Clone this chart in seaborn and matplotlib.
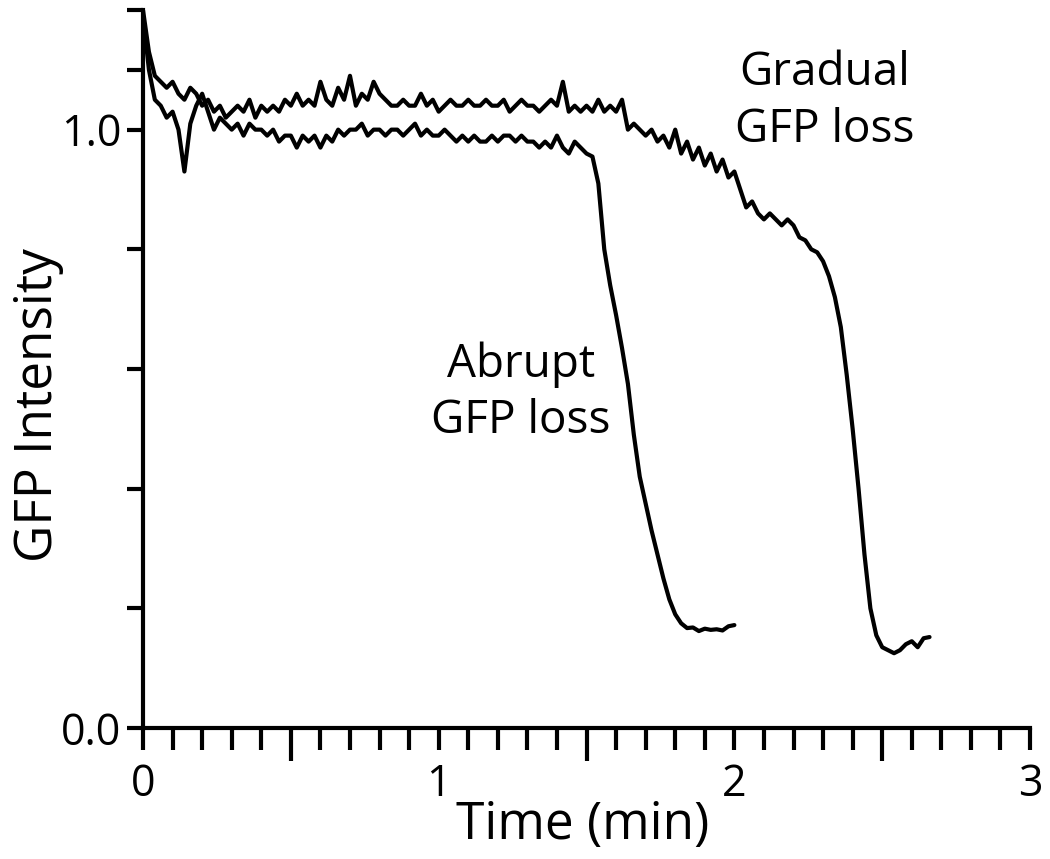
import numpy as np
import pandas as pd
import seaborn as sns
import matplotlib.pyplot as plt
from matplotlib.ticker import MultipleLocator, FixedLocator

# sampling interval of both traces (min)
DT = 0.02

# trace that loses GFP abruptly (0 - 2.0 min)
abrupt = [
    1.19, 1.10, 1.05, 1.04, 1.02, 1.03, 1.00, 0.93, 1.01, 1.04,
    1.06, 1.03, 1.00, 1.02, 1.01, 1.00, 1.01, 0.99, 1.01, 1.00,
    1.00, 0.99, 1.00, 0.98, 0.99, 0.99, 0.97, 0.99, 0.98, 0.99,
    0.97, 0.99, 0.98, 1.00, 0.99, 1.00, 1.00, 1.01, 0.99, 1.00,
    1.00, 0.99, 1.00, 1.00, 0.99, 1.00, 1.01, 0.99, 1.00, 0.99,
    0.99, 1.00, 0.99, 0.98, 0.99, 0.98, 0.99, 0.98, 0.98, 0.99,
    0.98, 0.99, 0.99, 0.98, 0.99, 0.98, 0.98, 0.97, 0.98, 0.97,
    0.99, 0.97, 0.96, 0.98, 0.97, 0.96, 0.955, 0.91, 0.80, 0.74,
    0.69, 0.635, 0.575, 0.49, 0.42, 0.375, 0.33, 0.29, 0.25, 0.215,
    0.19, 0.175, 0.167, 0.168, 0.162, 0.166, 0.164, 0.165, 0.163, 0.170,
    0.172,
]

# trace that loses GFP gradually (0 - 2.66 min)
gradual = [
    1.20, 1.13, 1.09, 1.08, 1.07, 1.08, 1.06, 1.05, 1.07, 1.06,
    1.04, 1.05, 1.03, 1.04, 1.02, 1.03, 1.04, 1.03, 1.05, 1.02,
    1.04, 1.03, 1.04, 1.03, 1.05, 1.04, 1.06, 1.04, 1.05, 1.04,
    1.08, 1.05, 1.04, 1.07, 1.05, 1.09, 1.04, 1.06, 1.05, 1.08,
    1.06, 1.05, 1.04, 1.04, 1.05, 1.04, 1.04, 1.06, 1.04, 1.05,
    1.03, 1.04, 1.05, 1.04, 1.04, 1.05, 1.04, 1.04, 1.05, 1.04,
    1.04, 1.05, 1.03, 1.04, 1.05, 1.04, 1.04, 1.03, 1.04, 1.05,
    1.04, 1.08, 1.03, 1.04, 1.03, 1.04, 1.03, 1.05, 1.03, 1.04,
    1.03, 1.05, 1.00, 1.01, 1.00, 0.99, 1.00, 0.98, 0.99, 0.97,
    1.00, 0.96, 0.98, 0.95, 0.97, 0.94, 0.96, 0.93, 0.95, 0.92,
    0.93, 0.90, 0.87, 0.88, 0.86, 0.85, 0.86, 0.85, 0.84, 0.85,
    0.84, 0.82, 0.815, 0.80, 0.795, 0.78, 0.755, 0.72, 0.67, 0.59,
    0.50, 0.40, 0.29, 0.20, 0.155, 0.135, 0.13, 0.125, 0.13, 0.14,
    0.145, 0.135, 0.15, 0.152,
]

x_labels = ["0", "1", "2", "3"]
y_labels = ["0.0", "1.0"]

df_abrupt = pd.DataFrame({"time": np.arange(len(abrupt)) * DT, "gfp": abrupt})
df_gradual = pd.DataFrame({"time": np.arange(len(gradual)) * DT, "gfp": gradual})

sns.set_style("ticks")
plt.rcParams['font.family'] = ['Open Sans', 'DejaVu Sans']
plt.rcParams['text.color'] = 'black'
plt.rcParams['axes.labelcolor'] = 'black'
plt.rcParams['xtick.color'] = 'black'
plt.rcParams['ytick.color'] = 'black'

fig = plt.figure(figsize=(10.5, 8.59), dpi=100)
ax = fig.add_axes([0.1362, 0.1525, 0.8448, 0.8359])

sns.lineplot(data=df_gradual, x="time", y="gfp", color="black", lw=3, ax=ax)
sns.lineplot(data=df_abrupt, x="time", y="gfp", color="black", lw=3, ax=ax)

ax.set_xlim(0, 3)
ax.set_ylim(0, 1.2)
sns.despine(ax=ax)
for s in ["left", "bottom"]:
    ax.spines[s].set_linewidth(3)
    ax.spines[s].set_color("black")

# x axis: labelled integer ticks, minor every 0.1, longer ones at the halves
ax.xaxis.set_major_locator(FixedLocator([0, 1, 2, 3]))
ax.set_xticklabels(x_labels)
ax.xaxis.set_minor_locator(MultipleLocator(0.1))
ax.tick_params(axis="x", which="both", direction="out", length=16, width=3,
               labelsize=31, pad=9)
minor_locs = ax.xaxis.get_minorticklocs()
for loc, tick in zip(minor_locs, ax.xaxis.get_minor_ticks(len(minor_locs))):
    if abs(loc % 1 - 0.5) < 1e-6:
        tick.tick1line.set_markersize(24)

# y axis
ax.yaxis.set_major_locator(FixedLocator([0, 1]))
ax.set_yticklabels(y_labels)
ax.yaxis.set_minor_locator(FixedLocator([0.2, 0.4, 0.6, 0.8, 1.1, 1.2]))
ax.tick_params(axis="y", which="both", direction="out", length=11.5, width=3,
               labelsize=31, pad=4)

ax.set_xlabel("Time (min)", fontsize=37)
ax.set_ylabel("GFP Intensity", fontsize=37)
ax.xaxis.set_label_coords(0.496, -0.1)
ax.yaxis.set_label_coords(-0.089, 0.45)

ax.text(2.306, 0.98, "Gradual\nGFP loss", ha="center", va="baseline",
        fontsize=33, linespacing=1.3)
ax.text(1.278, 0.493, "Abrupt\nGFP loss", ha="center", va="baseline",
        fontsize=33, linespacing=1.3)

fig.savefig("out.png", dpi=100)
